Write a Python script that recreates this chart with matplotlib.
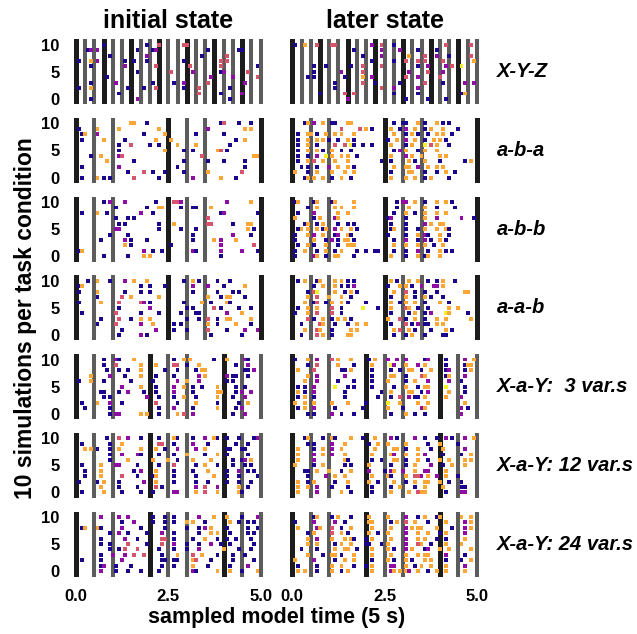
import matplotlib.pyplot as plt

plt.rcParams['font.family'] = ['Liberation Sans', 'DejaVu Sans']
plt.rcParams['font.weight'] = 'bold'

# ---- data ---------------------------------------------------------------
conditions = ['X-Y-Z', 'a-b-a', 'a-b-b', 'a-a-b',
              'X-a-Y:  3 var.s', 'X-a-Y: 12 var.s', 'X-a-Y: 24 var.s']
states = ['initial state', 'later state']

# one string per simulation (10 at top ... 0 at bottom)
# token "<time bin><colour>", time bin = 1/12 s, colours: d p r o y
bin_width = 5 / 60
colour_values = {'d': 0.02, 'p': 0.3, 'r': 0.55, 'o': 0.8, 'y': 0.98}

xyz_initial = [
    "9d 23d 27r 35r 36r",
    "4d 5p 7p 20d 25d 26p 43d 53d 54d",
    "11d 23p 41d 49r",
    "1d 5o 7p 16d 19d 23d 35d 47r 49r",
    "5d 16p 26r 37r 47r 59d",
    "20d 31r 38p 47d 48p 56r",
    "10d 44p 51p 59r",
    "5d 13p 25d 32d 35p 43r 55p",
    "1d 5o 17d 22d 26r 35d 40r 50d",
    "14d 40r 47d 54p",
    "5d 20p 50d",
]
xyz_later = [
    "1d 4o 8r 13r 14r 26p 29r 33d 50r 58r",
    "20d 29p 35p 41d 47d",
    "23d 29p 38o 43r 47p 51d 58r",
    "26d 33d 37r 41r 43r 49r 59o",
    "7d 11d 19d 23r 29r 41d 44p 50p 52r 55y",
    "7d 16p 23r 38p 44r 49p",
    "5d 7d 17d 23o 26p 37r 41p 48r",
    "14d 23r 27d 35d 43r 49d 56p 59p",
    "14d 29r 33p 41p",
    "9d 17r 20r 33d 41d 55d 56o",
    "18p 37d 44d 50d",
]
aba_initial = [
    "18o 19o 23d 47d 48r 53d 57d",
    "1d 7o 14o 27o 43p 55o 57o",
    "2d 3o 7p 22d 29o 39d 48d",
    "2d 9o 16d 26o 31o 52d 55o",
    "14d 18r 24d 27d 33o 39o 50d",
    "14d 29o 35d 38d 46o 47r 49d",
    "5d 8o 14p 15r 41r 58o 59o",
    "10o 19d 35d 43d 48d 55d",
    "2d 14p 33d 55d",
    "17d 22r 25d 29d 35d 43o 54r",
    "2d 7o 9d 11d 19r 27d 38p 47o 52d",
]
aba_later = [
    "4d 5o 7p 10o 13d 14d 18o 19o 33d 36d 37d 41o 43d 47o 49d 51d",
    "16r 22r 24o 26d 32o 35d 37p 40o 43d 45o 49o 54d",
    "2d 5o 6o 8d 11o 14o 16o 20o 33o 37d 39o 41d 44d 47o 49o 52d",
    "2d 5o 8o 10o 12d 15d 18o 20d 31d 34o 37p 40o 43d 46o 48o 50d",
    "2d 5o 8d 14r 17r 19y 20d 23d 26d 32o 37d 39o 43y 45r 47o 51d",
    "2d 5o 8o 10d 13o 16d 19d 33d 35p 37o 41d 43o 47o",
    "2d 5d 8p 11y 13o 16o 18o 21d 32o 37p 39o 42o 48o 50o",
    "2d 5o 7r 10o 14o 18o 29d 32d 38o 40d 43o 48d 56d 58o",
    "3d 5d 8d 12p 15o 18o 20d 33o 37o 38o 41p 44o 47o 49o",
    "1o 5d 8o 13o 17o 20o 32d 38o 39o 43d 47d 50o 53d",
    "4d 5o 7o 10o 13d 16o 19d 32o 37o 40o 43d 45o 51d",
]
abb_initial = [
    "9d 11p 16p 26d 32r 33r 34p 49p 57o",
    "13d 23d 27o 28o 34d 38d 39d 44o",
    "2d 7o 10d 21p 25d 47d 48p 59d",
    "13d 17d 19d 43r",
    "14d 16d 27d 32o 43r 44r 51d 56o 57o",
    "13p 14p 27d 34d 39d 56o 58d",
    "11d 17d 38d 51p 57d",
    "8d 16p 18d 23d 38d 45o 47p 52o",
    "16o 18d 31d 47p 58r",
    "1d 2o 22p 25d 28d 38p 39d 47p 54p 59d",
    "9d 17d 22o 24o 47d",
]
abb_later = [
    "1d 2o 7d 8o 13d 14o 20o 34d 36p 37p 40o 43d 47o 50o 52d",
    "5d 8o 14o 16o 20o 34d 38o 43o 47d 53d",
    "2d 7p 15o 18o 33d 37o 40d 43o 47o 50o",
    "1o 7d 9o 14p 15o 31d 32p 37d 43o 47p 55p 59d",
    "4d 5o 8d 10o 15d 18d 20d 32d 37d 43p 45o 48o 49o",
    "2d 3o 5o 8o 10d 11o 14p 16o 19o 21d 32d 33o 37d 41d 43o 47o 50o 51d",
    "1d 5o 7p 10o 14d 15p 18o 19d 31d 37d 41o 43p 44d 48o 51d",
    "1d 7o 11d 13p 15d 17o 18o 20d 33d 37p 41d 43p 45d 48o 50d",
    "2d 5o 7d 11o 15d 18o 19o 20o 33o 37o 41o 43o 46d 49o",
    "1d 4o 8d 11o 14d 16o 21d 24d 27d 28d 33d 37d 41p 44d 48o 50d 52d",
    "1d 7p 8o 11d 14o 15o 20d 32o 37d 41o 43d 44o 48o",
]
aab_initial = [
    "4d 7o 11d 16p 19o 23o 35d 38o 40d 46d 50d",
    "1d 2o 21d 24d 29d 38p 43p 48d 55o",
    "1d 7o 16d 21d 24d 38d 46d 51d 53d",
    "7d 15r 18o 27o 43o 47d 49o 50o 55d",
    "1d 8o 14r 21r 22p 24d 35d 41o 44d 49o 50d",
    "14d 24p 36d 38d 45r 47d 53d 57d",
    "2d 13r 21d 27d 34d 39d 40d 49p 54o",
    "8d 14r 18d 21o 24o 36d 40d 43r 46d 49o 50o 57o",
    "7d 13r 21p 25o 32d 34d 43o 46d 52o 57d",
    "15d 26p 32d 36d 43r 49d 55p 59p",
    "14d 21p 23d 44d 54d",
]
aab_later = [
    "2d 4o 8d 9o 14o 16o 18d 20d 32o 34d 38o 41o 44d 47d 49o 53d",
    "7d 10o 14o 16d 18d 20p 31d 35o 37o 39d 42p 46p 47p 49o",
    "5d 7r 8y 14o 17d 19o 21d 33o 37r 40d 43d 47d 56o 57o",
    "5o 8r 12o 16o 19d 32d 37o 40d 43o 45d 49d",
    "4o 7d 8r 11d 13o 16o 18d 24d 32o 35d 37o 40o 43d 48o 51d",
    "2d 5o 8o 13r 16d 23y 28d 32o 37r 38o 41d 44d 51o 54o",
    "1d 5o 8r 13r 16d 32d 38d 40o 43d 45p 50y 51o 57d",
    "5r 7d 10o 13d 15o 17o 19d 31o 35r 37d 40o 43d 47o 50o 58o",
    "3d 9r 10o 14d 18d 21o 24o 32d 37r 39d 41p 43d 44d 47o 49o",
    "4o 8r 9o 13d 19o 21o 33o 35r 38o 40d 45d 50o 52d",
    "3d 8r 10o 13d 18o 19o 33d 37d 39o 43d 49d 50d",
]
xay3_initial = [
    "9d 13p 14d 19o 32d 35o 37o 45d 49o 55p 56d",
    "9d 13r 21o 26o 32r 33r 36d 40o 52d 56p",
    "10d 14d 17d 21o 29d 33d 39d 41o 42o 55d 56d 58p",
    "5o 11p 16d 21o 26d 32d 40p 42o 49p 51d 52d 56d",
    "1d 5o 9d 18d 25d 33p 36o 40p 49d 51d",
    "15p 21o 26d 32p 35o 38d 41d 46o 52d 55d",
    "8d 9d 14d 17p 22d 26d 32p 38d 46o 47o 52d 54p 57p",
    "9d 11d 23p 27d 32d 35o 39d 46o 51d 55p",
    "2d 7o 11p 15d 26r 33d 39o 46d 53d 56o",
    "3d 11d 27d 32p 38d 46o 52d 54p",
    "11d 13p 14p 21o 23o 27d 33o 35r 38p 51d 55p",
]
xay3_later = [
    "1d 5o 8p 13r 15o 19o 25d 27o 31p 34p 37p 43d 44p 50d 56p 59o",
    "5d 8r 15o 20d 26o 32y 33p 37o 41p 43o 50d 56d 57o 58o",
    "2o 7r 16d 17d 19o 26d 32d 35d 38o 39o 42d 45o 50d 51p 56d 58o",
    "5o 8p 17p 26d 32o 33o 37d 42r 43o 50d 51o 56p",
    "4o 8p 15d 20d 26d 31o 37d 40o 44p 51p 55d",
    "2d 4d 7p 14y 18d 20d 26d 33d 37o 41d 43o 44o 50y 56d",
    "2o 4d 7p 17d 29d 32o 38o 39o 42d 44p 51o 56d",
    "2d 4o 7d 17d 28d 32d 35r 38p 40d 41d 43o 50o 55p",
    "1o 4o 7o 13o 18o 24d 31y 35o 41o 44o 56o",
    "2d 4o 7p 14d 23d 31o 36d 42p 43o 55p 57d",
    "5d 7d 13p 16d 20d 32d 37o 40d 43d 55p",
]
xay12_initial = [
    "10d 14r 17p 21d 27d 32o 33d 38d 42p 45o 46d 49d 53d 58d 59p",
    "2d 11d 15o 27r 28r 32d 38p 43d 52d 56d",
    "3o 5o 7d 11d 14o 21o 26o 29d 33p 39p 42o 49d 50d 54d 55d",
    "11d 15p 20p 21d 27d 32d 36o 42d 46o 49d 56d",
    "11d 17o 25o 30o 33d 38o 44o 51d 54d 55p 57o",
    "2d 8o 13p 14p 20d 27d 32r 39d 42o 46d 51d 55d 57d",
    "3d 8o 19d 21p 26o 32d 38d 43o 49d 53p 56d 58d",
    "3d 8o 15r 20d 25d 26o 32d 39d 45o 49d 53d 59d",
    "1d 7d 9o 14d 22p 26o 32d 39d 43d 49d 53d 57d",
    "8o 14d 20d 26r 28d 39p 42r 46p 53o 56d",
    "2d 9o 15d 21d 25d 32p 33p 39o 42r 46o 53o 54d",
]
xay12_later = [
    "4d 5o 10d 13o 14d 19o 23d 27o 32p 34d 40p 43d 47d 50p 52d 56p 59o",
    "5d 7d 13p 17o 25d 28o 31o 37o 44d 48o 54d",
    "2o 7d 10o 13p 16o 27o 33o 34o 37d 41o 45d 49o 56p",
    "2o 7p 10o 13p 17o 26o 32o 33p 37o 41o 43p 49d 55d 58o",
    "2o 7p 17o 18d 26d 29d 33o 34o 37d 41o 44d 48o 51o 56o 58o",
    "1o 7d 10o 17d 19d 25o 32d 37d 40o 45p 49d 52o 56o",
    "4d 5d 8o 12o 16d 19o 25p 30d 32p 33o 36p 40o 43p 44p 50o",
    "5d 11p 14o 17o 26o 31o 32d 37o 40r 41r 42p 44o 47p 50o 54d",
    "2o 5d 7o 14d 18o 25o 28d 33o 37d 40o 43o 44o 48o 51d 55d",
    "2o 5o 8p 13d 18d 26d 32d 35o 40d 43o 49o 55d 56d",
    "2o 8p 16o 19d 26d 32o 38o 41r 42o 43o 50d 55p 56p",
]
xay24_initial = [
    "8p 14p 17p 25d 29d 32d 40p 45o 49o 54d 59p",
    "15d 19p 25d 29d 32d 36o 38o 42d 50o 53d 56d 58d",
    "2d 3o 7o 8d 15p 21d 29d 36d 40d 42p 44o 49d 56d 59d",
    "11d 14p 17d 23d 28p 32d 40d 44o 46o 50d 56d 58d",
    "8d 16p 20d 28r 29r 32d 38d 42o 46d 49d 52d 57d",
    "8d 11d 17r 23d 28r 32p 36d 40d 44p 47d 50d 58d",
    "11d 14d 16r 20r 27d 32d 36d 40p 48o 53d 57d",
    "8d 12p 16p 19r 22r 28d 33o 38r 41o 46d 51d 55d",
    "2d 8d 15p 28d 29d 32d 33d 38o 39r 44d 51d 58d",
    "8d 9p 13d 18d 28d 32d 38o 43d 50d 56p",
    "8p 13d 17d 21d 27d 38p 39d 46o 50o 54d 59o",
]
xay24_later = [
    "7d 8o 13d 15o 19d 25o 31o 37p 41d 43o 47d 48o 55o 58o",
    "1d 7p 14p 17d 25o 26o 32d 34o 37r 40o 44d 50o 56p 58o",
    "2o 8p 9o 13r 16d 19o 26o 32o 37p 39o 41o 42o 47o 52d 56p 58o",
    "5d 7o 13r 16o 18d 25o 28d 31o 37p 41o 44o 48d 50o 56p",
    "5o 8p 13o 17o 19o 20d 24d 26o 32o 37p 41o 43o 47d 50d 56o",
    "5o 8o 14d 16o 19o 24d 25d 29d 31o 37p 41r 42o 45d 50o 55o",
    "3d 8d 14o 17o 18o 21d 26o 31o 33d 37p 39o 43d 44p 48o 51o 58o",
    "5o 10d 13o 14o 16d 20o 26o 32o 37o 41o 43o 44o 50p 56d",
    "1o 7p 14d 17o 20o 26d 31o 33d 37o 39d 43o 45o 50d 55d 58o",
    "2d 8d 13o 16o 20d 24d 26o 32p 33p 37o 40d 42o 45o 50o 56p",
    "2o 4o 8d 13o 16d 18o 26o 32p 33o 35o 37o 38p 41o 44d 47o 50o 56o",
]

panels = [
    (xyz_initial, xyz_later),
    (aba_initial, aba_later),
    (abb_initial, abb_later),
    (aab_initial, aab_later),
    (xay3_initial, xay3_later),
    (xay12_initial, xay12_later),
    (xay24_initial, xay24_later),
]

# stimulus onsets (s): black = start of a sequence, grey = later items
xyz_black = [0, 0.75, 1.5, 2.25, 3.0, 3.75, 4.5]
xyz_grey = [0.25, 0.5, 1.0, 1.25, 1.75, 2.0, 2.5, 2.75, 3.25, 3.5,
            4.0, 4.25, 4.75, 5.0]
abx_black = [0, 2.5, 5.0]
abx_grey = [0.5, 1.0, 3.0, 3.5]
xay_black = [0, 2.0, 4.0]
xay_grey = [0.5, 1.0, 2.5, 3.0, 4.5, 5.0]
bars = [(xyz_black, xyz_grey)] + [(abx_black, abx_grey)] * 3 + [(xay_black, xay_grey)] * 3


def parse(rows):
    t, sims, c = [], [], []
    for i, line in enumerate(rows):
        for tok in line.split():
            t.append(int(tok[:-1]) * bin_width)
            sims.append(10 - i)
            c.append(colour_values[tok[-1]])
    return t, sims, c


# ---- figure ----------------------------------------------------------------
W, H = 637, 634
fig = plt.figure(figsize=(W / 100, H / 100), dpi=100)

col_left = [72.3, 288.6]
ax_w, ax_h = 192, 65

for r in range(7):
    top = 39.3 + 78.7 * r
    for c in range(2):
        ax = fig.add_axes([col_left[c] / W, 1 - (top + ax_h) / H, ax_w / W, ax_h / H])
        black, grey = bars[r]
        for x in black:
            ax.axvline(x, color='#1c1c1c', lw=3.6, zorder=1)
        for x in grey:
            ax.axvline(x, color='#5c5c5c', lw=2.9, zorder=1)
        t, sims, col = parse(panels[r][c])
        ax.scatter(t, sims, c=col, cmap='plasma', vmin=0, vmax=1,
                   marker='s', s=8, linewidths=0, zorder=3)
        ax.set_xlim(-0.1, 5.1)
        ax.set_ylim(-1, 11)
        for sp in ax.spines.values():
            sp.set_visible(False)
        ax.tick_params(length=0, labelsize=12, pad=9)
        if c == 0:
            ax.set_yticks([0, 5, 10])
        else:
            ax.set_yticks([])
        if r == 6:
            ax.set_xticks([0, 2.5, 5])
            ax.set_xticklabels(['0.0', '2.5', '5.0'])
        else:
            ax.set_xticks([])
        if r == 0:
            ax.set_title(states[c], fontsize=18, fontweight='bold', pad=8)
    fig.text(497 / W, 1 - (top + ax_h / 2) / H, conditions[r],
             fontsize=14.5, fontweight='bold', style='italic', va='center', ha='left')

fig.text(277 / W, 1 - 617 / H, 'sampled model time (5 s)',
         fontsize=15.5, fontweight='bold', ha='center', va='center')
fig.text(26 / W, 1 - 318 / H, '10 simulations per task condition',
         fontsize=16.5, fontweight='bold', rotation=90, ha='center', va='center')

fig.savefig('out.png', dpi=100)
